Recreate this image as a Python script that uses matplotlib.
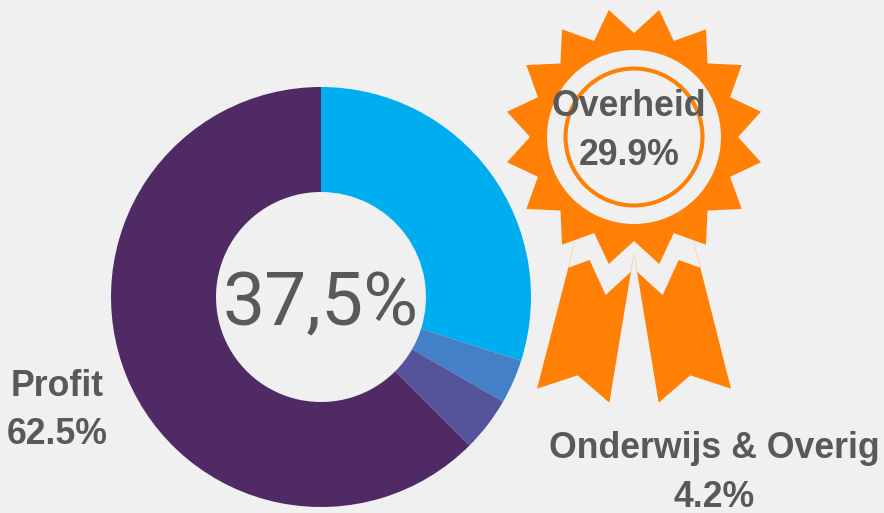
import matplotlib
matplotlib.use("Agg")
import matplotlib.pyplot as plt
import numpy as np
from matplotlib.patches import Circle, Polygon

WIDTH, HEIGHT = 884, 513
BG = "#f0f0f0"
ORANGE = "#ff8005"
GREY = "#595959"

# donut data
categories = ["Overheid", "Onderwijs", "Overig", "Profit"]
shares = [29.9, 3.4, 4.2, 62.5]
colors = ["#00aeef", "#4480c8", "#55549b", "#4f2a65"]

center_text = "37,5%"
label_texts = ["Overheid\n29.9%", "Profit\n62.5%", "Onderwijs & Overig\n4.2%"]


def py(y):
    """Image row to axes y (axes run bottom-up in pixels)."""
    return HEIGHT - y


fig = plt.figure(figsize=(WIDTH / 100, HEIGHT / 100), dpi=100, facecolor=BG)
ax = fig.add_axes([0, 0, 1, 1])
ax.set_facecolor(BG)

ax.pie(
    shares,
    colors=colors,
    startangle=90,
    counterclock=False,
    center=(321, py(297)),
    radius=210,
    frame=True,
    wedgeprops={"width": 105, "linewidth": 0},
)

# rosette
cx, cy = 634, py(137)
n_points = 16
angles = np.deg2rad(90 - np.arange(2 * n_points) * 180 / n_points)
radii = np.where(np.arange(2 * n_points) % 2 == 0, 104, 129.5)
star = np.column_stack([cx + radii * np.cos(angles), cy + radii * np.sin(angles)])
ax.add_patch(Polygon(star, closed=True, facecolor=ORANGE, edgecolor="none", zorder=3))
ax.add_patch(Circle((cx, cy), 87, facecolor=BG, edgecolor="none", zorder=4))
ax.add_patch(Circle((cx, cy), 68.5, facecolor="none", edgecolor=ORANGE, linewidth=2.9, zorder=5))

left_ribbon = [(145, 203), (209, 180), (257, 285), (333, 215), (268, 608), (173, 526), (51, 566)]
right_ribbon = [(541, 203), (476, 180), (428, 285), (351, 215), (416, 608), (511, 526), (633, 566)]
for pts in (left_ribbon, right_ribbon):
    xy = [(520 + x / 3, py(200 + y / 3)) for x, y in pts]
    ax.add_patch(Polygon(xy, closed=True, facecolor=ORANGE, edgecolor="none", zorder=3))

# faint seams between the star and the ribbons
seams = [[(163, 122), (145, 203)], [(520, 122), (541, 203)], [(341, 165), (333, 215)], [(345, 165), (351, 215)]]
for seam in seams:
    ax.plot(
        [520 + p[0] / 3 for p in seam],
        [py(200 + p[1] / 3) for p in seam],
        color="#f8d3ae",
        linewidth=0.6,
        zorder=2,
    )

font = "Liberation Sans"
ax.text(320, py(325), center_text, ha="center", va="baseline", fontsize=54, color=GREY, family="Roboto", zorder=6)

line_pos = [[(629, 116), (629, 165)], [(57, 396), (57, 444)], [(714, 458), (714, 507)]]
for text, rows in zip(label_texts, line_pos):
    for line, (x, y) in zip(text.split("\n"), rows):
        ax.text(x, py(y), line, ha="center", va="baseline", fontsize=25.7, fontweight="bold", color=GREY, family=font, zorder=6)

ax.set_xlim(0, WIDTH)
ax.set_ylim(0, HEIGHT)
ax.set_aspect("equal")
ax.axis("off")

fig.savefig("out.png", dpi=100, facecolor=BG)
